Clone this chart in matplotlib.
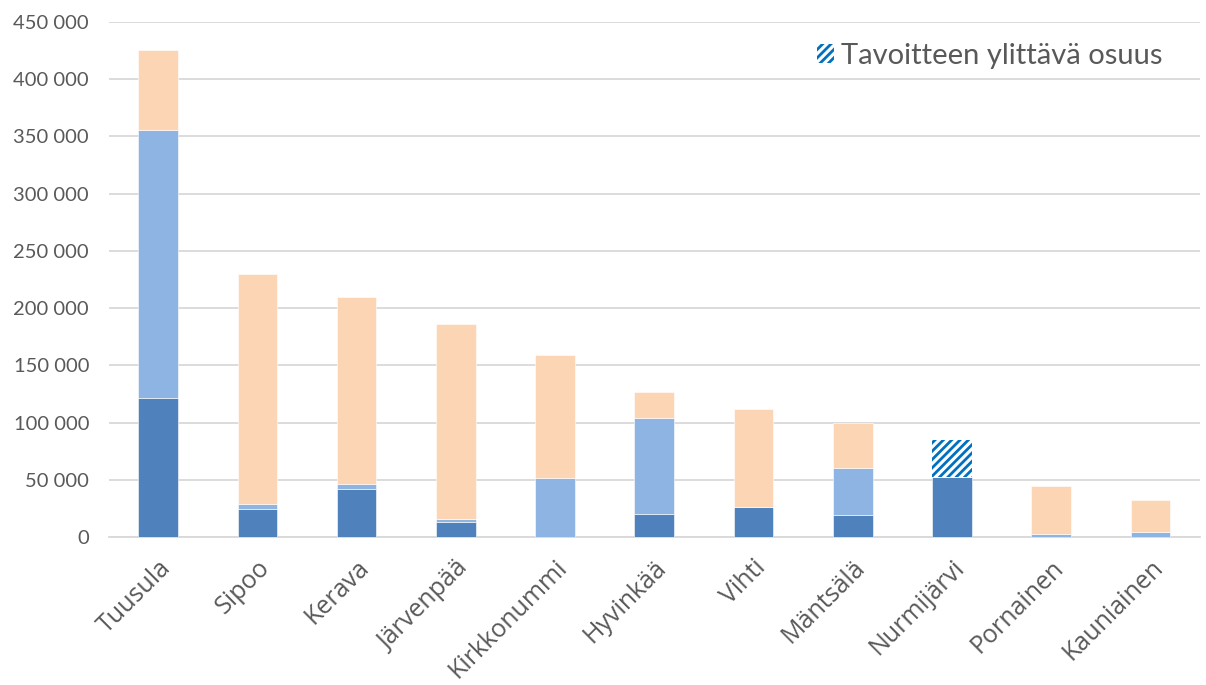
import numpy as np
import matplotlib
matplotlib.use('Agg')
import matplotlib.pyplot as plt
from matplotlib.patches import Patch
from matplotlib.ticker import FuncFormatter

# data
kunnat = ['Tuusula', 'Sipoo', 'Kerava', 'Järvenpää', 'Kirkkonummi', 'Hyvinkää',
          'Vihti', 'Mäntsälä', 'Nurmijärvi', 'Pornainen', 'Kauniainen']
tumma = [121500, 24500, 42000, 13400, 0, 20400, 26000, 19200, 52200, 0, 0]
vaalea = [234000, 4500, 4000, 2300, 51600, 83600, 0, 41000, 0, 2600, 4400]
persikka = [70000, 201000, 164000, 170300, 107400, 22700, 86000, 39400, 0, 42200, 28200]
ylitys = [0, 0, 0, 0, 0, 0, 0, 0, 32300, 0, 0]

c_dark = '#4F81BD'
c_light = '#8EB4E3'
c_peach = '#FCD5B5'
c_hatch = '#0070C0'
txt = '#595959'

plt.rcParams['hatch.linewidth'] = 2.0
plt.rcParams['hatch.color'] = c_hatch

fig = plt.figure(figsize=(12.06, 6.85), dpi=100)
ax = fig.add_axes([0.09, 0.216, 0.905, 0.752])

x = np.arange(len(kunnat))
w = 0.4
tumma = np.array(tumma)
vaalea = np.array(vaalea)
persikka = np.array(persikka)
ylitys = np.array(ylitys)

ax.bar(x, tumma, w, color=c_dark, edgecolor='white', linewidth=0.4, zorder=3)
ax.bar(x, vaalea, w, bottom=tumma, color=c_light, edgecolor='white', linewidth=0.4, zorder=3)
ax.bar(x, persikka, w, bottom=tumma + vaalea, color=c_peach, edgecolor='white', linewidth=0.4, zorder=3)
ax.bar(x, ylitys, w, bottom=tumma + vaalea, color='white', edgecolor=c_hatch,
       hatch='////', linewidth=0, zorder=3)

ax.set_xlim(-0.5, len(kunnat) - 0.5)
ax.set_ylim(0, 450000)
ax.set_yticks(np.arange(0, 450001, 50000))
ax.yaxis.set_major_formatter(FuncFormatter(lambda v, p: '{:,.0f}'.format(v).replace(',', ' ')))
ax.grid(axis='y', color='#D9D9D9', linewidth=1.3, zorder=0)
for s in ['top', 'right', 'left']:
    ax.spines[s].set_visible(False)
ax.spines['bottom'].set_color('#D9D9D9')
ax.spines['bottom'].set_linewidth(1.3)
ax.tick_params(length=0)
ax.tick_params(axis='y', labelsize=14.5, labelcolor=txt, pad=14)
for lab in ax.get_yticklabels():
    lab.set_family('Lato')

ax.set_xticks(x)
ax.set_xticklabels(kunnat, rotation=45, ha='right', rotation_mode='anchor',
                   fontsize=18, color=txt, family='Open Sans')
ax.tick_params(axis='x', pad=13)

leg_patch = Patch(facecolor='white', edgecolor=c_hatch, hatch='////', linewidth=0,
                  label='Tavoitteen ylittävä osuus')
ax.legend(handles=[leg_patch], loc='upper right', frameon=False,
          prop={'family': 'Lato', 'size': 21}, labelcolor=txt,
          handlelength=0.6, handleheight=0.6, handletextpad=0.25,
          bbox_to_anchor=(0.99, 1.01))

fig.savefig('out.png', dpi=100)
